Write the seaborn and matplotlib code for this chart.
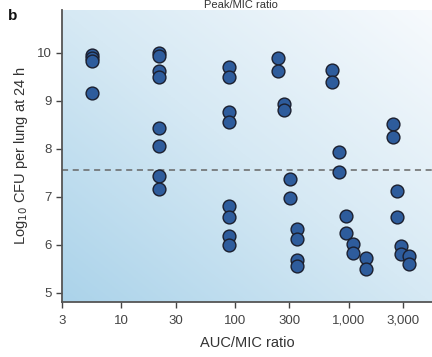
import numpy as np
import pandas as pd
import seaborn as sns
import matplotlib.pyplot as plt
from matplotlib.colors import LinearSegmentedColormap

# data
auc_mic = [5.5, 5.5, 5.5, 5.5,
           21.6, 21.6, 21.6, 21.6, 21.6, 21.6, 21.6, 21.6,
           88.8, 88.8, 88.8, 88.8, 88.8, 88.8, 88.8, 88.8,
           238, 238, 268, 268, 306, 306, 349, 349, 349, 349,
           718, 718, 819, 819, 953, 953, 1090, 1090, 1430, 1430,
           2460, 2460, 2680, 2680, 2910, 2910, 3380, 3380]
log_cfu = [9.95, 9.9, 9.83, 9.17,
           10.0, 9.93, 9.63, 9.5, 8.44, 8.06, 7.44, 7.16,
           9.71, 9.5, 8.77, 8.55, 6.81, 6.58, 6.19, 5.99,
           9.9, 9.62, 8.93, 8.8, 7.37, 6.97, 6.33, 6.12, 5.68, 5.57,
           9.65, 9.4, 7.94, 7.51, 6.6, 6.25, 6.01, 5.83, 5.72, 5.49,
           8.51, 8.25, 7.13, 6.58, 5.97, 5.81, 5.77, 5.6]
stasis_line = 7.55
xticks = [3, 10, 30, 100, 300, 1000, 3000]
xtick_labels = ['3', '10', '30', '100', '300', '1,000', '3,000']
yticks = [5, 6, 7, 8, 9, 10]

df = pd.DataFrame({'AUC/MIC': auc_mic, 'logCFU': log_cfu})

sns.set_style('white')
plt.rcParams['font.family'] = ['Liberation Sans', 'DejaVu Sans']

fig = plt.figure(figsize=(4.32, 3.57), dpi=100)
ax = fig.add_axes([0.1435, 0.154, 0.856, 0.818])

# diagonal gradient background
gx, gy = np.meshgrid(np.linspace(0, 1, 200), np.linspace(0, 1, 200))
grad = (gx + gy) / 2
cmap = LinearSegmentedColormap.from_list('bg', ['#abd3ea', '#d6e9f4', '#f7fafd'])
ax.imshow(grad, cmap=cmap, origin='lower', extent=[0, 1, 0, 1],
          transform=ax.transAxes, aspect='auto', zorder=0)

ax.axhline(stasis_line, color='#666666', lw=1.1, ls=(0, (4, 3)), zorder=1)

sns.scatterplot(data=df, x='AUC/MIC', y='logCFU', ax=ax, s=85,
                color='#2e5c9c', edgecolor='#1b1f2e', linewidth=1.0, zorder=3)

ax.set_xscale('log')
ax.set_xlim(3, 5380)
ax.set_ylim(4.81, 10.89)
ax.set_xticks(xticks)
ax.set_xticklabels(xtick_labels)
ax.minorticks_off()
ax.set_yticks(yticks)

for s in ['top', 'right']:
    ax.spines[s].set_visible(False)
for s in ['left', 'bottom']:
    ax.spines[s].set_color('#555555')
    ax.spines[s].set_linewidth(1.3)
ax.tick_params(axis='both', direction='out', length=4, width=1, color='#444444',
               labelsize=9.5, labelcolor='#444444', bottom=True, left=True)
ax.tick_params(axis='x', pad=5)

ax.set_xlabel('AUC/MIC ratio', fontsize=10.5, color='#333333', labelpad=7)
ax.set_ylabel('Log$_{10}$ CFU per lung at 24 h', fontsize=10.5, color='#333333', labelpad=5)

fig.text(0.018, 0.945, 'b', fontsize=11, fontweight='bold', color='#111111')
fig.text(0.558, 0.999, 'Peak/MIC ratio', fontsize=8, ha='center', va='top', color='#333333')

plt.savefig('out.png', dpi=100)
